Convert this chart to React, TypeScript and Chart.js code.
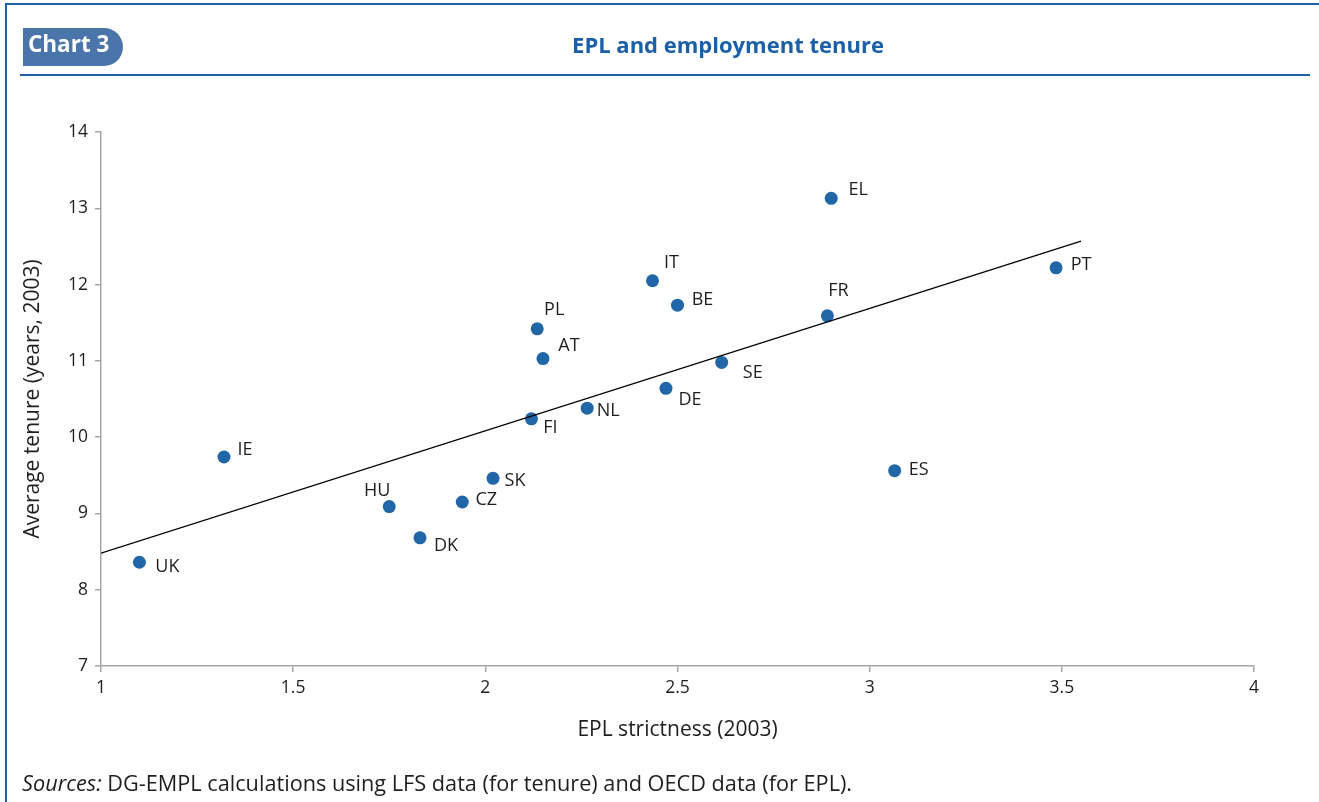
import React, { useEffect, useRef } from "react";
import { Chart, registerables } from "chart.js";

Chart.register(...registerables);

const countries = ["UK", "IE", "HU", "DK", "CZ", "SK", "FI", "NL", "PL", "AT", "IT", "BE", "DE", "SE", "FR", "EL", "ES", "PT"];
const eplStrictness = [1.1, 1.32, 1.75, 1.83, 1.94, 2.02, 2.12, 2.265, 2.135, 2.15, 2.435, 2.5, 2.47, 2.615, 2.89, 2.9, 3.065, 3.485];
const avgTenure = [8.36, 9.74, 9.09, 8.68, 9.15, 9.46, 10.24, 10.38, 11.42, 11.03, 12.05, 11.73, 10.64, 10.98, 11.59, 13.13, 9.56, 12.22];
const trendX = [1, 3.55];
const trendY = [8.48, 12.57];
const xTicks = [1, 1.5, 2, 2.5, 3, 3.5, 4];
const yTicks = [7, 8, 9, 10, 11, 12, 13, 14];

// label centre offsets from each point (px)
const labelOffsets: [number, number][] = [
  [28, 5], [21, -7], [-12, -16], [26, 8], [24, -2], [22, 3], [19, 9], [21, 3], [17, -19],
  [26, -13], [19, -18], [25, -5], [24, 12], [31, 10], [11, -25], [27, -8], [24, -1], [25, -3],
];

const FONT = '"Open Sans", "Noto Sans", sans-serif';
const BLUE = "#1b5fa8";
const TEXT = "#1e1e1e";

const labelPlugin = {
  id: "pointLabels",
  afterDatasetsDraw(chart: any) {
    const meta = chart.getDatasetMeta(1);
    const ctx = chart.ctx;
    ctx.save();
    ctx.font = `18px ${FONT}`;
    ctx.fillStyle = TEXT;
    ctx.textAlign = "center";
    ctx.textBaseline = "middle";
    meta.data.forEach((el: any, i: number) => {
      const [dx, dy] = labelOffsets[i];
      ctx.fillText(countries[i], el.x + dx, el.y + dy);
    });
    ctx.restore();
  },
};

export default function App() {
  const ref = useRef<HTMLCanvasElement>(null);
  useEffect(() => {
    document.body.style.margin = "0";
    const chart = new Chart(ref.current as HTMLCanvasElement, {
      type: "scatter",
      data: {
        datasets: [
          {
            type: "line",
            data: trendX.map((x, i) => ({ x, y: trendY[i] })),
            borderColor: "#000",
            borderWidth: 1.3,
            pointRadius: 0,
            fill: false,
          } as any,
          {
            data: eplStrictness.map((x, i) => ({ x, y: avgTenure[i] })),
            backgroundColor: "#2166a6",
            borderWidth: 0,
            pointRadius: 6.5,
          },
        ],
      },
      options: {
        animation: false,
        responsive: false,
        layout: { padding: { left: 0, top: 132, right: 65, bottom: 56 } },
        plugins: { legend: { display: false }, tooltip: { enabled: false } },
        scales: {
          x: {
            type: "linear",
            min: 1,
            max: 4,
            afterBuildTicks: (s: any) => { s.ticks = xTicks.map((v) => ({ value: v })); },
            afterFit: (s: any) => { s.height = 80; },
            grid: { drawOnChartArea: false, drawTicks: true, tickLength: 6, color: "#a6a6a6", lineWidth: 1.5 },
            border: { color: "#a6a6a6", width: 1.5 },
            ticks: { color: TEXT, font: { family: FONT, size: 17.5 }, padding: 6, callback: (v: any) => String(v) },
            title: { display: true, text: "EPL strictness (2003)", color: TEXT, font: { family: FONT, size: 21 }, padding: { bottom: 3, top: 0 } },
          },
          y: {
            type: "linear",
            min: 7,
            max: 14,
            afterBuildTicks: (s: any) => { s.ticks = yTicks.map((v) => ({ value: v })); },
            afterFit: (s: any) => { s.width = 101; },
            grid: { drawOnChartArea: false, drawTicks: true, tickLength: 6, color: "#a6a6a6", lineWidth: 1.5 },
            border: { color: "#a6a6a6", width: 1.5 },
            ticks: { color: TEXT, font: { family: FONT, size: 17.5 }, padding: 7, callback: (v: any) => String(v) },
            title: { display: true, text: "Average tenure (years, 2003)", color: TEXT, font: { family: FONT, size: 21 }, padding: { top: 20, bottom: 0 } },
          },
        },
      },
      plugins: [labelPlugin],
    });
    return () => chart.destroy();
  }, []);

  return (
    <div style={{ position: "absolute", left: 0, top: 0, width: 1319, height: 802, background: "#fff", overflow: "hidden", fontFamily: FONT }}>
      <canvas ref={ref} width={1319} height={802} style={{ position: "absolute", left: 0, top: 0, width: 1319, height: 802 }} />
      <div style={{ position: "absolute", left: 5, top: 3, width: 1314, height: 2, background: BLUE }} />
      <div style={{ position: "absolute", left: 5, top: 3, width: 2, height: 799, background: BLUE }} />
      <div style={{ position: "absolute", left: 20, top: 74, width: 1290, height: 2, background: BLUE }} />
      <div style={{ position: "absolute", left: 23, top: 28, width: 100, height: 38, background: "#4a75aa", borderRadius: "0 19px 19px 0", color: "#fff", fontWeight: 700, fontSize: 22.5, lineHeight: "32px", paddingLeft: 5, boxSizing: "border-box", whiteSpace: "nowrap" }}>Chart 3</div>
      <div style={{ position: "absolute", left: 428, top: 30, width: 600, textAlign: "center", color: BLUE, fontWeight: 700, fontSize: 22, lineHeight: "28px", whiteSpace: "nowrap" }}>EPL and employment tenure</div>
      <div style={{ position: "absolute", left: 22, top: 770, fontSize: 21.7, lineHeight: "26px", color: TEXT, whiteSpace: "nowrap" }}>
        <i>Sources:</i> DG-EMPL calculations using LFS data (for tenure) and OECD data (for EPL).
      </div>
    </div>
  );
}
